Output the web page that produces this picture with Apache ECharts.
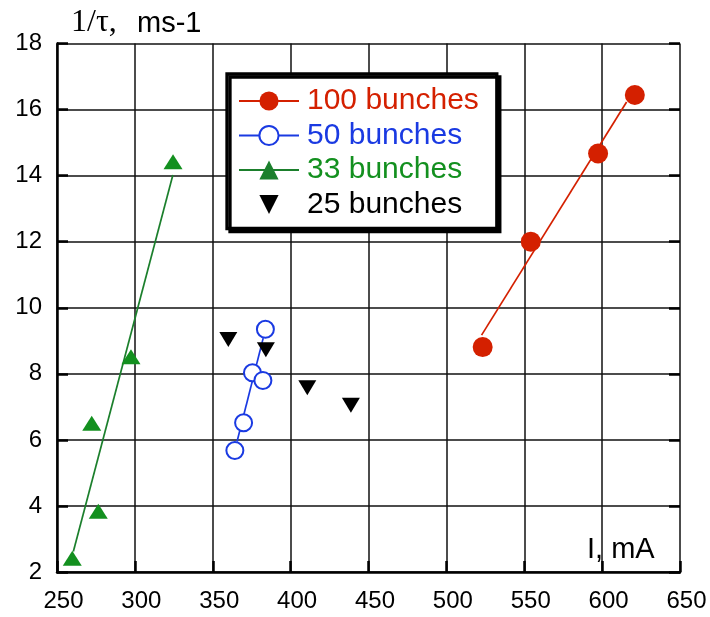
<!DOCTYPE html>
<html>
<head>
<meta charset="utf-8">
<script src="https://cdn.jsdelivr.net/npm/echarts@6/dist/echarts.min.js"></script>
<style>
  html, body { margin: 0; padding: 0; background: #fff; }
  #chart { width: 710px; height: 617px; }
</style>
</head>
<body>
<div id="chart"></div>
<script>
// Growth rate 1/tau (ms^-1) versus beam current I (mA) for several fill patterns

const xTicks = [250, 300, 350, 400, 450, 500, 550, 600, 650];
const yTicks = [2, 4, 6, 8, 10, 12, 14, 16, 18];

// 100 bunches: measured points and fitted line
const b100Points = [[523.3, 8.81], [554.2, 12.0], [597.4, 14.67], [621.0, 16.44]];
const b100Fit = [[522.6, 9.17], [615.7, 16.23]];

// 50 bunches
const b50Points = [[364.2, 5.68], [369.8, 6.52], [375.5, 8.03], [382.2, 7.80], [383.8, 9.35]];
const b50Fit = [[365.6, 5.95], [382.4, 9.08]];

// 33 bunches
const b33Points = [[259.8, 2.42], [272.3, 6.50], [276.5, 3.84], [297.5, 8.52], [324.5, 14.42]];
const b33Fit = [[260.5, 2.62], [324.4, 14.02]];

// 25 bunches (points only)
const b25Points = [[360.0, 9.04], [384.1, 8.73], [410.7, 7.58], [438.7, 7.05]];

const RED = '#d42000';
const BLUE = '#1a3ae2';
const GREEN = '#13901f';
const GREEN_LINE = '#1b7f2c';
const BLACK = '#000000';

const SANS = 'Liberation Sans, Arial, sans-serif';
const SERIF = 'Liberation Serif, Times New Roman, serif';

const chart = echarts.init(document.getElementById('chart'), null, { renderer: 'canvas' });

const fitLine = (name, data, color, symbol) => ({
  name, type: 'line', data, symbol, showSymbol: false, silent: true,
  lineStyle: { color, width: 1.7 }, itemStyle: { color }, z: 2
});

chart.setOption({
  animation: false,
  backgroundColor: '#fff',
  grid: { left: 57, right: 30, top: 43.5, bottom: 45, outerBoundsMode: 'none' },
  xAxis: {
    type: 'value', min: xTicks[0], max: xTicks[xTicks.length - 1], interval: 50,
    name: 'I, mA', nameLocation: 'end', nameGap: -93,
    nameTextStyle: { fontFamily: SANS, fontSize: 29, color: '#000', align: 'left', verticalAlign: 'bottom', padding: [0, 0, 8, 0] },
    axisLine: { show: true, onZero: false, lineStyle: { color: '#000', width: 2.5 } },
    axisTick: { show: true, inside: true, length: 11, lineStyle: { color: '#000', width: 2.5 } },
    axisLabel: { fontFamily: SANS, fontSize: 24, color: '#000', margin: 17, padding: [0, 0, 0, 13] },
    splitLine: { show: true, lineStyle: { color: '#111', width: 1.5 } }
  },
  yAxis: [{
    type: 'value', min: yTicks[0], max: yTicks[yTicks.length - 1], interval: 2,
    axisLine: { show: true, onZero: false, lineStyle: { color: '#000', width: 2.5 } },
    axisTick: { show: true, inside: true, length: 11, lineStyle: { color: '#000', width: 2.5 } },
    axisLabel: { fontFamily: SANS, fontSize: 24, color: '#000', margin: 15 },
    splitLine: { show: true, lineStyle: { color: '#111', width: 1.5 } }
  }, {
    type: 'value', position: 'right', min: yTicks[0], max: yTicks[yTicks.length - 1], interval: 2,
    axisLine: { show: false },
    axisTick: { show: true, inside: true, length: 11, lineStyle: { color: '#000', width: 2.5 } },
    axisLabel: { show: false },
    splitLine: { show: false }
  }],
  graphic: [
    { type: 'text', left: 71, top: 7, style: { text: '1/τ,', font: '32px ' + SERIF, fill: '#000' } },
    { type: 'text', left: 137, top: 9, style: { text: 'ms-1', font: '29px ' + SANS, fill: '#000' } }
  ],
  legend: {
    orient: 'vertical', left: 227, top: 74,
    padding: [12, 18, 9, 11],
    itemWidth: 60, itemHeight: 24, itemGap: 4.5,
    selectedMode: false,
    backgroundColor: '#fff', borderColor: '#000', borderWidth: 3.3, borderRadius: 0,
    shadowColor: '#000', shadowBlur: 0, shadowOffsetX: 3, shadowOffsetY: 3,
    textStyle: { fontFamily: SANS, fontSize: 30, padding: [0, 0, 0, 3] },
    data: [
      { name: '100 bunches', textStyle: { color: RED } },
      { name: '50 bunches', textStyle: { color: BLUE } },
      { name: '33 bunches', textStyle: { color: GREEN } },
      { name: '25 bunches', textStyle: { color: BLACK } }
    ]
  },
  series: [
    fitLine('100 bunches', b100Fit, RED, 'circle'),
    fitLine('50 bunches', b50Fit, BLUE, 'emptyCircle'),
    fitLine('33 bunches', b33Fit, GREEN_LINE, 'triangle'),
    {
      name: '25 bunches', type: 'line', data: b25Points,
      symbol: 'triangle', symbolRotate: 180, symbolSize: [18, 15],
      lineStyle: { width: 0 }, itemStyle: { color: BLACK }, z: 3
    },
    {
      name: '100 bunches', type: 'scatter', data: b100Points,
      symbol: 'circle', symbolSize: 20, itemStyle: { color: RED, opacity: 1 }, z: 3
    },
    {
      name: '50 bunches', type: 'scatter', data: b50Points,
      symbol: 'circle', symbolSize: 17,
      itemStyle: { color: '#fff', borderColor: BLUE, borderWidth: 2, opacity: 1 }, z: 3
    },
    {
      name: '33 bunches', type: 'scatter', data: b33Points,
      symbol: 'triangle', symbolSize: [19, 15], itemStyle: { color: GREEN, opacity: 1 }, z: 3
    }
  ]
});
</script>
</body>
</html>
